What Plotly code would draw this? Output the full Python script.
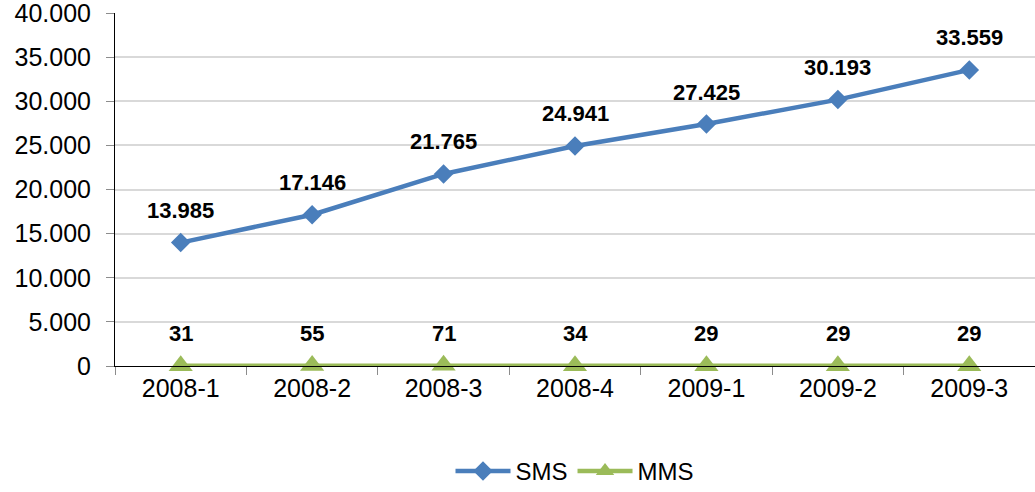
import plotly.graph_objects as go

quarters = ["2008-1", "2008-2", "2008-3", "2008-4", "2009-1", "2009-2", "2009-3"]
sms = [13985, 17146, 21765, 24941, 27425, 30193, 33559]
mms = [31, 55, 71, 34, 29, 29, 29]

SMS_COLOR = "#4A7EBB"
MMS_COLOR = "#9BBB59"
FONT = "Liberation Sans, Arial, sans-serif"


def fmt(v):
    return f"{v:,}".replace(",", ".")


fig = go.Figure()
fig.add_trace(go.Scatter(
    x=quarters, y=mms, name="MMS", mode="lines+markers", cliponaxis=False,
    line=dict(color=MMS_COLOR, width=4.5),
    marker=dict(symbol="triangle-up", size=21, color=MMS_COLOR),
))
fig.add_trace(go.Scatter(
    x=quarters, y=sms, name="SMS", mode="lines+markers", cliponaxis=False,
    line=dict(color=SMS_COLOR, width=4.5),
    marker=dict(symbol="diamond", size=15, color=SMS_COLOR),
))

annotations = []
for series in (sms, mms):
    for q, v in zip(quarters, series):
        annotations.append(dict(
            x=q, y=v, text=f"<b>{fmt(v)}</b>", showarrow=False,
            yshift=32, font=dict(family=FONT, size=22, color="#000000"),
        ))

fig.update_layout(
    width=1035, height=492,
    margin=dict(l=115, r=0, t=13, b=126, autoexpand=False),
    paper_bgcolor="white", plot_bgcolor="white",
    separators=",.",
    font=dict(family=FONT, size=24, color="#000000"),
    showlegend=True,
    legend=dict(orientation="h", x=0.5, xanchor="center", y=-0.235, yanchor="top",
                traceorder="reversed",
                font=dict(family=FONT, size=24), itemwidth=55),
    annotations=annotations,
)
fig.update_xaxes(
    type="category", showgrid=False, showline=True, linecolor="#000000", linewidth=1,
    ticks="outside", tickson="boundaries", ticklen=8, tickcolor="#8C8C8C",
    tickfont=dict(family=FONT, size=25), range=[-0.5, 6.5],
)
fig.update_yaxes(
    range=[0, 40010], tickvals=[0, 5000, 10000, 15000, 20000, 25000, 30000, 35000, 40000],
    tickformat=",d", ticklabeloverflow="allow", ticklabelstandoff=10,
    showgrid=True, gridcolor="#D9D9D9", gridwidth=1.5, zeroline=False,
    showline=True, linecolor="#000000", linewidth=1,
    ticks="outside", ticklen=8, tickcolor="#8C8C8C",
    tickfont=dict(family=FONT, size=25),
)

fig.write_html("out.html")
